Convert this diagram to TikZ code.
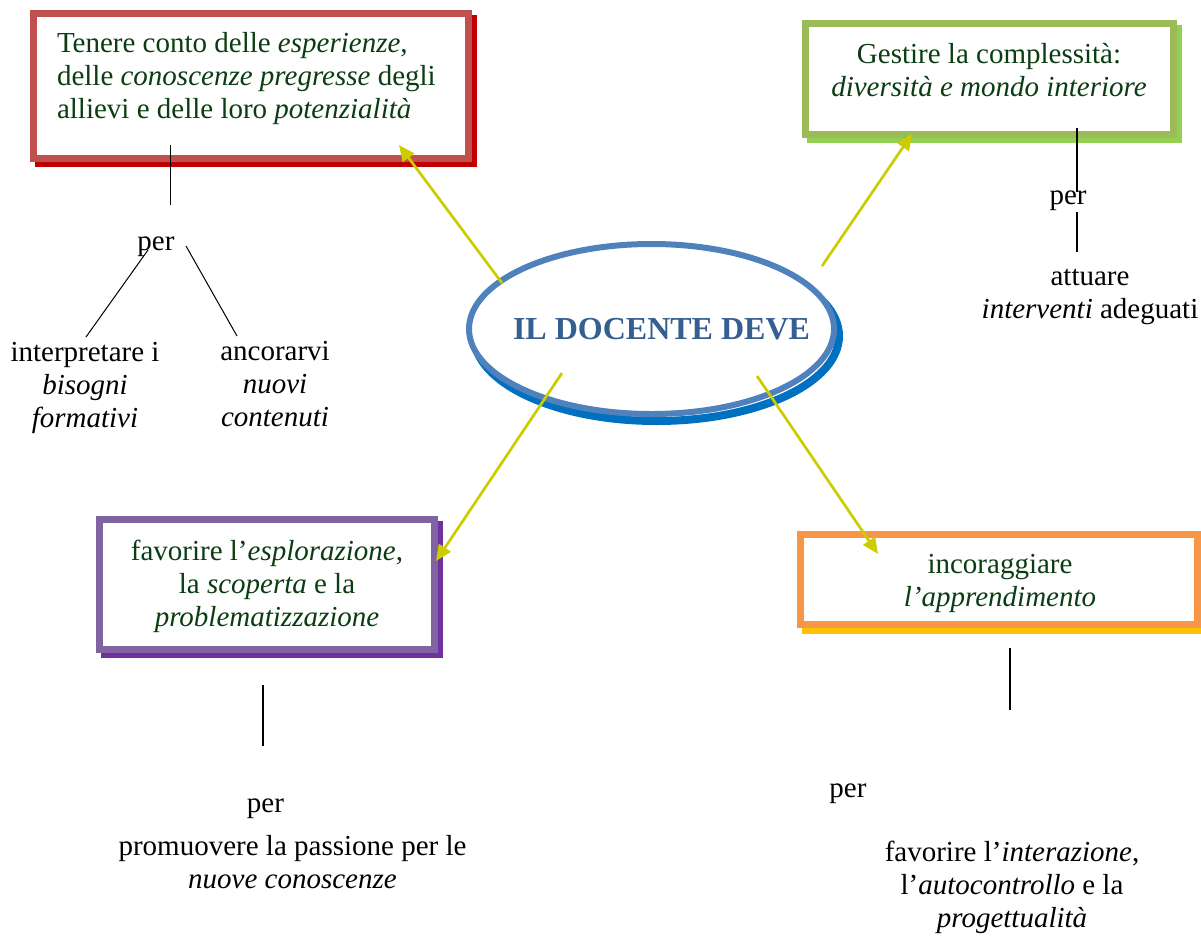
\documentclass[tikz,border=0pt]{standalone}
\usepackage{fontspec}
\setmainfont{Liberation Serif}
\usetikzlibrary{arrows.meta,backgrounds,shapes.geometric}
\definecolor{txtgreen}{HTML}{0B3D12}
\definecolor{redb}{HTML}{C0504D}
\definecolor{redsh}{HTML}{C00000}
\definecolor{greenb}{HTML}{9BBB59}
\definecolor{greensh}{HTML}{92D050}
\definecolor{purpb}{HTML}{8064A2}
\definecolor{purpsh}{HTML}{7030A0}
\definecolor{orab}{HTML}{F79646}
\definecolor{orash}{HTML}{FFC000}
\definecolor{ellb}{HTML}{4F81BD}
\definecolor{ellsh}{HTML}{0070C0}
\definecolor{titleb}{HTML}{365F91}
\definecolor{arrowc}{HTML}{CCCC00}
\begin{document}
\begin{tikzpicture}[x=1pt,y=-1pt,
  every node/.style={inner sep=0pt,outer sep=0pt,font=\fontsize{29}{33}\selectfont},
  frame/.style={draw=#1,line width=7pt,fill=white,rectangle},
  shadowline/.style={draw=#1,line width=7pt},
  boxtxt/.style={text=txtgreen,align=center},
  plain/.style={text=black,align=center},
  conn/.style={draw=arrowc,line width=2.7pt,-{Triangle[length=16pt,width=14pt]}},
  link/.style={draw=black,line width=1.3pt}]
\useasboundingbox (0,0) rectangle (1201,935);

% boxes
\node[frame=redb,minimum width=435pt,minimum height=145pt] (rbox) at (251,86) {};
\node[frame=greenb,minimum width=368pt,minimum height=111pt] (gbox) at (989.5,79) {};
\node[frame=purpb,minimum width=335pt,minimum height=130pt] (pbox) at (267,584.5) {};
\node[frame=orab,minimum width=397pt,minimum height=90pt] (obox) at (999,579.5) {};
\node[draw=ellb,line width=6pt,fill=white,ellipse,minimum width=365pt,minimum height=170pt] (ell) at (651.5,329) {};

\begin{scope}[on background layer]
  \draw[shadowline=redsh] ([shift={(5,5)}]rbox.north west) rectangle ([shift={(5,5)}]rbox.south east);
  \draw[shadowline=greensh] ([shift={(5,5)}]gbox.north west) rectangle ([shift={(5,5)}]gbox.south east);
  \draw[shadowline=purpsh] ([shift={(5,5)}]pbox.north west) rectangle ([shift={(5,5)}]pbox.south east);
  \draw[shadowline=orash] ([shift={(5,6)}]obox.north west) rectangle ([shift={(5,6)}]obox.south east);
  \draw[draw=ellsh,line width=8pt] ([shift={(5,7)}]ell.center) ellipse [x radius=182.5pt,y radius=85pt];
\end{scope}

% texts in boxes
\node[boxtxt,align=left,anchor=west] (rtxt) at (57,78.3) {Tenere conto delle \textit{esperienze},\\delle \textit{conoscenze pregresse} degli\\allievi e delle loro \textit{potenzialità}};
\node[boxtxt] (gtxt) at (989,70) {Gestire la complessità:\\\textit{diversità e mondo interiore}};
\node[boxtxt] (ptxt) at (267,586.3) {favorire l’\textit{esplorazione},\\la \textit{scoperta} e la\\\textit{problematizzazione}};
\node[boxtxt] (otxt) at (1000,583.8) {incoraggiare\\\textit{l’apprendimento}};
\node[font=\fontsize{32}{36}\selectfont\bfseries,text=titleb] (title) at (661.5,329) {IL DOCENTE DEVE};

% outside texts
\node[plain] (per1) at (156,246.5) {per};
\node[plain] (int) at (85,387.5) {interpretare i\\\textit{bisogni}\\\textit{formativi}};
\node[plain] (anc) at (275,384.5) {ancorarvi\\\textit{nuovi}\\\textit{contenuti}};
\node[plain] (per2) at (1068,200.5) {per};
\node[plain] (att) at (1090,296.8) {attuare\\\textit{interventi} adeguati};
\node[plain] (per3) at (265.5,808.5) {per};
\node[plain] (prom) at (292.5,862.1) {promuovere la passione per le\\\textit{nuove conoscenze}};
\node[plain] (per4) at (848,793.5) {per};
\node[plain] (fav) at (1012,887.8) {favorire l’\textit{interazione},\\l’\textit{autocontrollo} e la\\\textit{progettualità}};

% black links
\coordinate (r1a) at (170,145); \coordinate (r1b) at (170,205);
\coordinate (r2a) at (148,250); \coordinate (r2b) at (86,337);
\coordinate (r3a) at (186,246); \coordinate (r3b) at (237,336);
\coordinate (g1a) at (1077,128); \coordinate (g1b) at (1077,192);
\coordinate (g2a) at (1077,212); \coordinate (g2b) at (1077,252);
\coordinate (p1a) at (263,685); \coordinate (p1b) at (263,746);
\coordinate (o1a) at (1010,648); \coordinate (o1b) at (1010,710);
\draw[link,line width=1pt] (r1a) -- (r1b);
\draw[link,line width=1pt] (r2a) -- (r2b);
\draw[link,line width=1pt] (r3a) -- (r3b);
\draw[link] (g1a) -- (g1b);
\draw[link] (g2a) -- (g2b);
\draw[link] (p1a) -- (p1b);
\draw[link] (o1a) -- (o1b);

% arrows
\coordinate (a1s) at (502,283); \coordinate (a1e) at (399,145);
\coordinate (a2s) at (822,266); \coordinate (a2e) at (912,134);
\coordinate (a3s) at (562,373); \coordinate (a3e) at (436,561);
\coordinate (a4s) at (757,376); \coordinate (a4e) at (878,554);
\draw[conn] (a1s) -- (a1e);
\draw[conn] (a2s) -- (a2e);
\draw[conn] (a3s) -- (a3e);
\draw[conn] (a4s) -- (a4e);
\end{tikzpicture}
\end{document}
